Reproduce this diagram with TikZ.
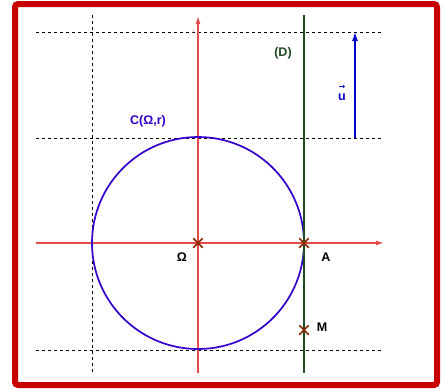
\documentclass[tikz,border=0pt]{standalone}
\usepackage{fontspec}
\setmainfont{Liberation Sans}
\newfontfamily\arrowfont{DejaVu Sans}
\usepackage{tikz}
\usetikzlibrary{arrows.meta, calc, positioning, shapes.misc}
\definecolor{framered}{HTML}{C80000}
\definecolor{axisred}{HTML}{E84A4A}
\definecolor{circleblue}{HTML}{3300CC}
\definecolor{vecblue}{HTML}{0000CC}
\definecolor{linegreen}{HTML}{1F4A22}
\definecolor{crossbrown}{HTML}{8B2A00}

\begin{document}
\begin{tikzpicture}[
    x=1pt,
    y=-1pt,
    font=\fontsize{12.5}{14}\selectfont\bfseries,
    frame/.style={
        draw=framered,
        line width=6pt,
        rounded corners=3pt
    },
    guide/.style={
        draw=black,
        dashed,
        line width=1pt
    },
    axis/.style={
        -{Latex[length=8pt,width=5pt]},
        draw=axisred,
        line width=1.3pt
    },
    circ/.style={
        draw=circleblue,
        line width=1.7pt
    },
    dline/.style={
        draw=linegreen,
        line width=2pt
    },
    vec/.style={
        -{Latex[length=10pt,width=6pt]},
        draw=vecblue,
        line width=2pt
    },
    crossmark/.style={
        cross out,
        draw=crossbrown,
        line width=1.5pt,
        minimum size=8pt,
        inner sep=0pt
    },
    lbl/.style={
        text=black,
        inner sep=1pt
    }
]

\useasboundingbox (0,0) rectangle (446,389);

% -----------------------------------------------------
% Cadre
% -----------------------------------------------------

\draw[frame] (15,4) rectangle (437,385);

% -----------------------------------------------------
% Lignes de construction
% -----------------------------------------------------

\coordinate (h1w) at (36,32);
\coordinate (h1e) at (383,32);
\coordinate (h2w) at (36,138);
\coordinate (h2e) at (383,138);
\coordinate (h3w) at (36,350);
\coordinate (h3e) at (383,350);
\coordinate (vtop) at (92,15);
\coordinate (vbot) at (92,373);

\draw[guide] (h1w) -- (h1e);
\draw[guide] (h2w) -- (h2e);
\draw[guide] (h3w) -- (h3e);
\draw[guide] (vtop) -- (vbot);

% -----------------------------------------------------
% Repere
% -----------------------------------------------------

\coordinate (xw) at (36,243);
\coordinate (xe) at (384,243);
\coordinate (yb) at (198,373);
\coordinate (yt) at (198,16);

\draw[axis] (xw) -- (xe);
\draw[axis] (yb) -- (yt);
\node[text=axisred, font=\fontsize{4}{4}\selectfont, left=0pt] (tick) at (198,32) {2};

% -----------------------------------------------------
% Cercle, droite (D) et vecteur
% -----------------------------------------------------

\draw[circ] (198,243) circle[radius=106];

\coordinate (dtop) at (304,15);
\coordinate (dbot) at (304,373);
\draw[dline] (dtop) -- (dbot);

\coordinate (ubot) at (355,138);
\coordinate (utop) at (355,31);
\draw[vec] (ubot) -- (utop);

% -----------------------------------------------------
% Points
% -----------------------------------------------------

\node[crossmark] (Omega) at (198,243) {};
\node[crossmark] (A) at (304,243) {};
\node[crossmark] (M) at (304,330) {};

% -----------------------------------------------------
% Etiquettes
% -----------------------------------------------------

\node[lbl] (lOmega) at (182,257) {Ω};
\node[lbl] (lA) at (326,257) {A};
\node[lbl] (lM) at (322,327) {M};
\node[text=linegreen] (lD) at (283,53) {(D)};
\node[text=circleblue] (lC) at (148,121) {C(Ω,r)};
\node[text=vecblue, inner sep=0pt] (lu) at (342,93)
    {\shortstack{{\arrowfont\fontsize{8}{8}\selectfont →}\\[1pt]u}};

\end{tikzpicture}
\end{document}
